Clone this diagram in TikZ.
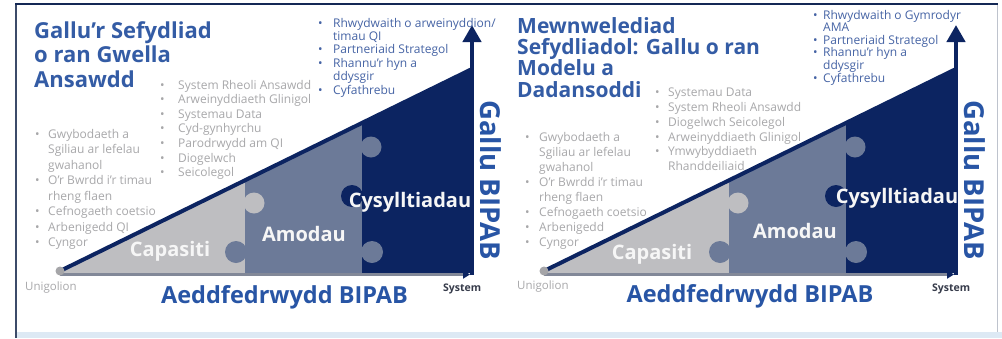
\documentclass[tikz,border=0pt]{standalone}
\usepackage{fontspec}
\setmainfont{Open Sans}
\usetikzlibrary{arrows.meta}
\definecolor{navyc}{RGB}{12,36,97}
\definecolor{midc}{RGB}{108,122,152}
\definecolor{lightc}{RGB}{190,190,193}
\definecolor{titleblue}{RGB}{52,92,165}
\definecolor{vertblue}{RGB}{40,85,165}
\definecolor{graytxt}{RGB}{168,168,170}
\definecolor{bluetxt}{RGB}{70,100,165}
\definecolor{labelw}{RGB}{246,246,246}
\definecolor{axisc}{RGB}{130,136,152}
\definecolor{dotc}{RGB}{165,165,168}
\definecolor{framec}{RGB}{20,40,85}
\definecolor{leftc}{RGB}{60,75,105}
\definecolor{rightc}{RGB}{190,195,205}
\definecolor{bandc}{RGB}{221,233,244}
\definecolor{sysc}{RGB}{55,60,75}
\tikzset{
  ttlL/.style={anchor=base west, inner sep=0pt, text=titleblue, font=\fontsize{22}{24}\selectfont\bfseries},
  ttlR/.style={anchor=base west, inner sep=0pt, text=titleblue, font=\fontsize{21}{23}\selectfont\bfseries},
  gtxt/.style={anchor=base west, inner sep=0pt, text=graytxt, font=\fontsize{12}{14}\selectfont},
  btxt/.style={anchor=base west, inner sep=0pt, text=bluetxt, font=\fontsize{12}{13}\selectfont},
  vtxt/.style={anchor=center, inner sep=0pt, rotate=-90, text=vertblue, font=\fontsize{27.5}{29}\selectfont\bfseries},
  htxt/.style={anchor=base, inner sep=0pt, text=vertblue, font=\fontsize{23.5}{25}\selectfont\bfseries},
  lbl/.style={anchor=base, inner sep=0pt, text=labelw, font=\fontsize{20}{22}\selectfont\bfseries},
  unig/.style={anchor=base west, inner sep=0pt, text=graytxt, font=\fontsize{11.5}{13}\selectfont},
  syst/.style={anchor=base west, inner sep=0pt, text=sysc, font=\fontsize{10.5}{12}\selectfont\bfseries},
}
\newcommand\drawpanel[2]{%
\begin{scope}[xshift=#2pt]
  \coordinate (#1o) at (60,271);
  \coordinate (#1p) at (245,180.4);
  \coordinate (#1q) at (362,123);
  \coordinate (#1r) at (472,69);
  \coordinate (#1ha) at (60,274.5);
  \coordinate (#1hb) at (470,274.5);
  \coordinate (#1va) at (472,275);
  \coordinate (#1vb) at (472,25);
  \fill[lightc] (#1o) -- (#1p) -- (245,273) -- (60,273) -- cycle;
  \fill[midc] (#1p) -- (#1q) -- (362,273) -- (245,273) -- cycle;
  \fill[navyc] (#1q) -- (#1r) -- (472,273) -- (362,273) -- cycle;
  \fill[lightc] (254,203) circle[radius=10.5pt];
  \fill[midc] (236,252) circle[radius=11pt];
  \fill[midc] (371,147) circle[radius=10.5pt];
  \fill[navyc] (352,196) circle[radius=11pt];
  \fill[midc] (372,252) circle[radius=11pt];
  \draw[axisc, line width=2.5pt, -{Triangle[length=7pt,width=8pt,color=navyc]}] (#1ha) -- (#1hb);
  \draw[navyc, line width=4pt, line cap=round] (#1o) -- (#1r);
  \draw[navyc, line width=4.5pt, -{Triangle[length=17pt,width=18pt]}] (#1va) -- (#1vb);
  \fill[dotc] (#1o) circle[radius=4.5pt];
\end{scope}}
\begin{document}
\begin{tikzpicture}[x=1pt,y=-1pt]
\useasboundingbox (0,0) rectangle (1002,338);
\fill[white] (0,0) rectangle (1002,338);
\fill[bandc] (16,332) rectangle (1002,338);
\draw[leftc, line width=1.5pt] (16,4) -- (16,338);
\draw[rightc, line width=1pt] (997,4) -- (997,332);
\draw[framec, line width=2.5pt] (15.25,4) -- (997.5,4);

\drawpanel{L}{0}
\drawpanel{R}{484}

% ---------- left panel texts
\node[ttlL] (tL1) at (34,38) {Gallu’r Sefydliad};
\node[ttlL] (tL2) at (34,62) {o ran Gwella};
\node[ttlL] (tL3) at (34,87) {Ansawdd};

\node[gtxt] (aL1b) at (35,138) {•};
\node[gtxt] (aL1) at (48,138) {Gwybodaeth a};
\node[gtxt] (aL2) at (48,153.5) {Sgiliau ar lefelau};
\node[gtxt] (aL3) at (48,169) {gwahanol};
\node[gtxt] (aL4b) at (35,184.5) {•};
\node[gtxt] (aL4) at (48,184.5) {O’r Bwrdd i’r timau};
\node[gtxt] (aL5) at (48,200) {rheng flaen};
\node[gtxt] (aL6b) at (35,215.5) {•};
\node[gtxt] (aL6) at (48,215.5) {Cefnogaeth coetsio};
\node[gtxt] (aL7b) at (35,231) {•};
\node[gtxt] (aL7) at (48,231) {Arbenigedd QI};
\node[gtxt] (aL8b) at (35,246.5) {•};
\node[gtxt] (aL8) at (48,246.5) {Cyngor};

\node[gtxt] (bL1b) at (160,89) {•};
\node[gtxt] (bL1) at (178,89) {System Rheoli Ansawdd};
\node[gtxt] (bL2b) at (160,103.6) {•};
\node[gtxt] (bL2) at (178,103.6) {Arweinyddiaeth Glinigol};
\node[gtxt] (bL3b) at (160,118.2) {•};
\node[gtxt] (bL3) at (178,118.2) {Systemau Data};
\node[gtxt] (bL4b) at (160,132.8) {•};
\node[gtxt] (bL4) at (178,132.8) {Cyd-gynhyrchu};
\node[gtxt] (bL5b) at (160,147.4) {•};
\node[gtxt] (bL5) at (178,147.4) {Parodrwydd am QI};
\node[gtxt] (bL6b) at (160,162) {•};
\node[gtxt] (bL6) at (178,162) {Diogelwch};
\node[gtxt] (bL7b) at (160,176.6) {•};
\node[gtxt] (bL7) at (178,176.6) {Seicolegol};

\node[btxt] (cL1b) at (318,27) {•};
\node[btxt] (cL1) at (333,27) {Rhwydwaith o arweinyddion/};
\node[btxt] (cL2) at (333,40.4) {timau QI};
\node[btxt] (cL3b) at (318,53.8) {•};
\node[btxt] (cL3) at (333,53.8) {Partneriaid Strategol};
\node[btxt] (cL4b) at (318,67.2) {•};
\node[btxt] (cL4) at (333,67.2) {Rhannu’r hyn a};
\node[btxt] (cL5) at (333,80.6) {ddysgir};
\node[btxt] (cL6b) at (318,94) {•};
\node[btxt] (cL6) at (333,94) {Cyfathrebu};

\node[vtxt] (vL) at (491,180) {Gallu BIPAB};
\node[htxt] (hL) at (284.5,303) {Aeddfedrwydd BIPAB};
\node[unig] (uL) at (25,290) {Unigolion};
\node[syst] (sL) at (443,291) {System};
\node[lbl] (kL1) at (170,256) {Capasiti};
\node[lbl] (kL2) at (304,241) {Amodau};
\node[lbl] (kL3) at (410,207) {Cysylltiadau};

% ---------- right panel texts
\node[ttlR] (tR1) at (517,33) {Mewnwelediad};
\node[ttlR] (tR2) at (517,54.5) {Sefydliadol: Gallu o ran};
\node[ttlR] (tR3) at (517,75.5) {Modelu a};
\node[ttlR] (tR4) at (517,97) {Dadansoddi};

\node[gtxt] (aR1b) at (525,141) {•};
\node[gtxt] (aR1) at (539,141) {Gwybodaeth a};
\node[gtxt] (aR2) at (539,156) {Sgiliau ar lefelau};
\node[gtxt] (aR3) at (539,171) {gwahanol};
\node[gtxt] (aR4b) at (525,186) {•};
\node[gtxt] (aR4) at (539,186) {O’r Bwrdd i’r timau};
\node[gtxt] (aR5) at (539,201) {rheng flaen};
\node[gtxt] (aR6b) at (525,216) {•};
\node[gtxt] (aR6) at (539,216) {Cefnogaeth coetsio};
\node[gtxt] (aR7b) at (525,231) {•};
\node[gtxt] (aR7) at (539,231) {Arbenigedd};
\node[gtxt] (aR8b) at (525,246) {•};
\node[gtxt] (aR8) at (539,246) {Cyngor};

\node[gtxt] (bR1b) at (655,96.6) {•};
\node[gtxt] (bR1) at (668,96.6) {Systemau Data};
\node[gtxt] (bR2b) at (655,111.4) {•};
\node[gtxt] (bR2) at (668,111.4) {System Rheoli Ansawdd};
\node[gtxt] (bR3b) at (655,126.2) {•};
\node[gtxt] (bR3) at (668,126.2) {Diogelwch Seicolegol};
\node[gtxt] (bR4b) at (655,141) {•};
\node[gtxt] (bR4) at (668,141) {Arweinyddiaeth Glinigol};
\node[gtxt] (bR5b) at (655,155.8) {•};
\node[gtxt] (bR5) at (668,155.8) {Ymwybyddiaeth};
\node[gtxt] (bR6) at (668,170.6) {Rhanddeiliaid};

\node[btxt] (cR1b) at (813,19) {•};
\node[btxt] (cR1) at (823,19) {Rhwydwaith o Gymrodyr};
\node[btxt] (cR2) at (823,31.6) {AMA};
\node[btxt] (cR3b) at (813,44.2) {•};
\node[btxt] (cR3) at (823,44.2) {Partneriaid Strategol};
\node[btxt] (cR4b) at (813,56.8) {•};
\node[btxt] (cR4) at (823,56.8) {Rhannu’r hyn a};
\node[btxt] (cR5) at (823,69.4) {ddysgir};
\node[btxt] (cR6b) at (813,82) {•};
\node[btxt] (cR6) at (823,82) {Cyfathrebu};

\node[vtxt] (vR) at (975,180) {Gallu BIPAB};
\node[htxt] (hR) at (750,302) {Aeddfedrwydd BIPAB};
\node[unig] (uR) at (517,289) {Unigolion};
\node[syst] (sR) at (932,291) {System};
\node[lbl] (kR1) at (652,259) {Capasiti};
\node[lbl] (kR2) at (795,238) {Amodau};
\node[lbl] (kR3) at (897,203) {Cysylltiadau};
\end{tikzpicture}
\end{document}
